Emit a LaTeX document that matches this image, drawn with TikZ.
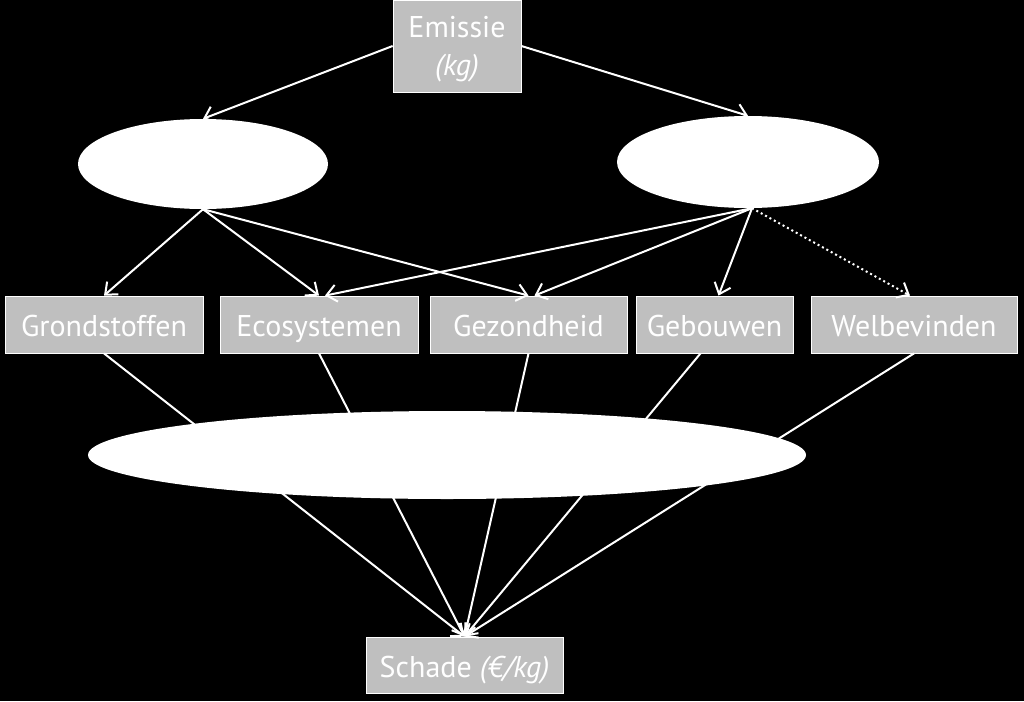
\documentclass[tikz,border=0pt]{standalone}
\usepackage{fontspec}
\setmainfont{PT Sans}
\usetikzlibrary{shapes.geometric,arrows.meta}
\definecolor{boxgray}{RGB}{191,191,191}

\begin{document}
\begin{tikzpicture}[x=1pt,y=-1pt]
\tikzset{
    block/.style={rectangle, draw=white, line width=0.8pt, fill=boxgray, text=white,
      minimum height=57pt, inner sep=0pt, text height=24pt, text depth=0pt,
      font=\fontsize{30}{38}\selectfont},
    ell/.style={ellipse, fill=white, inner sep=0pt},
    link/.style={white, line width=2pt},
    arr/.style={link, -{Straight Barb[length=10pt,width=17pt]}}
}
  \fill[black] (0,0) rectangle (1024,701);
  \useasboundingbox (0,0) rectangle (1024,701);

  \node[block, minimum width=128pt, minimum height=92pt, text height=, text depth=0pt, align=center] (emissie) at (457,46) {Emissie\\\textit{(kg)}};
  \node[ell, minimum width=250pt, minimum height=90pt] (left) at (203,164) {};
  \node[ell, minimum width=262pt, minimum height=92pt] (right) at (748,162) {};
  \node[block, minimum width=198pt] (grond) at (104,324.5) {Grondstoffen};
  \node[block, minimum width=198pt] (eco) at (319,324.5) {Ecosystemen};
  \node[block, minimum width=197pt] (gezond) at (528.5,324.5) {Gezondheid};
  \node[block, minimum width=157pt] (gebouw) at (714.5,324.5) {Gebouwen};
  \node[block, minimum width=206pt] (welbev) at (914,324.5) {Welbevinden};
  \node[block, minimum width=197pt, minimum height=56pt] (schade) at (464.5,665) {Schade \textit{(€/kg)}};

  \draw[arr] (emissie.west) -- (left.north);
  \draw[arr] (emissie.east) -- (right.north);
  \draw[arr] (left.south) -- (grond.north);
  \draw[arr] (left.south) -- (eco.north);
  \draw[arr] (left.south) -- (gezond.north);
  \draw[arr] ([xshift=4pt]right.south) -- ([xshift=6pt]eco.north);
  \draw[arr] ([xshift=4pt]right.south) -- ([xshift=6pt]gezond.north);
  \draw[arr] ([xshift=4pt]right.south) -- ([xshift=4pt]gebouw.north);
  \draw[arr, dash pattern=on 2pt off 3pt] ([xshift=4pt]right.south) -- ([xshift=-4pt]welbev.north);
  %\draw[arr] (right.south) -- (welbev.north);

  \draw[arr] (grond.south) -- (schade.north);
  \draw[arr] (eco.south) -- (schade.north);
  \draw[arr] (gezond.south) -- (schade.north);
  \draw[arr] ([xshift=-14pt]gebouw.south) -- (schade.north);
  \draw[arr] (welbev.south) -- (schade.north);
  \node[ell, minimum width=718pt, minimum height=88pt] (model) at (447,455) {};
\end{tikzpicture}
\end{document}
